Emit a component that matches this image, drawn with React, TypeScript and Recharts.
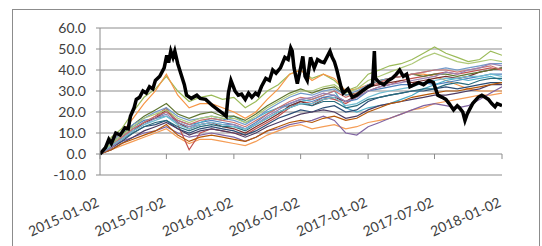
import { LineChart, Line, XAxis, YAxis, CartesianGrid, ReferenceLine } from "recharts";

const monthDates = [
  "2015-01-02", "2015-02-02", "2015-03-02", "2015-04-02", "2015-05-02", "2015-06-02",
  "2015-07-02", "2015-08-02", "2015-09-02", "2015-10-02", "2015-11-02", "2015-12-02",
  "2016-01-02", "2016-02-02", "2016-03-02", "2016-04-02", "2016-05-02", "2016-06-02",
  "2016-07-02", "2016-08-02", "2016-09-02", "2016-10-02", "2016-11-02", "2016-12-02",
  "2017-01-02", "2017-02-02", "2017-03-02", "2017-04-02", "2017-05-02", "2017-06-02",
  "2017-07-02", "2017-08-02", "2017-09-02", "2017-10-02", "2017-11-02", "2017-12-02",
  "2018-01-02"
];

const tickDates = ["2015-01-02", "2015-07-02", "2016-01-02", "2016-07-02", "2017-01-02", "2017-07-02", "2018-01-02"];
const yTicks = [-10, 0, 10, 20, 30, 40, 50, 60];

// thick black series, read at irregular dates
const blackDates = [
  "2015-01-02", "2015-01-17", "2015-01-26", "2015-02-02", "2015-02-14", "2015-02-26", "2015-03-11",
  "2015-03-20", "2015-03-26", "2015-04-05", "2015-04-11", "2015-04-20", "2015-04-29", "2015-05-08",
  "2015-05-17", "2015-05-26", "2015-06-02", "2015-06-14", "2015-06-26", "2015-07-03", "2015-07-08",
  "2015-07-14", "2015-07-20", "2015-07-25", "2015-08-02", "2015-08-11", "2015-08-20", "2015-08-26",
  "2015-09-08", "2015-09-23", "2015-10-02", "2015-10-17", "2015-11-05", "2015-11-20", "2015-12-02",
  "2015-12-12", "2015-12-18", "2015-12-25", "2016-01-05", "2016-01-14", "2016-01-23", "2016-02-02",
  "2016-02-11", "2016-02-20", "2016-03-01", "2016-03-08", "2016-03-17", "2016-03-29", "2016-04-08",
  "2016-04-17", "2016-04-26", "2016-05-08", "2016-05-20", "2016-05-29", "2016-06-05", "2016-06-09",
  "2016-06-14", "2016-06-23", "2016-07-02", "2016-07-08", "2016-07-14", "2016-07-20", "2016-07-29",
  "2016-08-08", "2016-08-17", "2016-08-26", "2016-09-04", "2016-09-20", "2016-09-26", "2016-10-02",
  "2016-10-08", "2016-10-20", "2016-10-26", "2016-11-08", "2016-11-20", "2016-12-02", "2016-12-17",
  "2017-01-02", "2017-01-14", "2017-01-19", "2017-01-22", "2017-02-02", "2017-02-14", "2017-02-26",
  "2017-03-08", "2017-03-20", "2017-03-29", "2017-04-08", "2017-04-17", "2017-04-26", "2017-05-08",
  "2017-05-20", "2017-06-02", "2017-06-17", "2017-06-29", "2017-07-11", "2017-07-23", "2017-08-02",
  "2017-08-11", "2017-08-23", "2017-09-02", "2017-09-08", "2017-09-17", "2017-09-23", "2017-09-29",
  "2017-10-05", "2017-10-14", "2017-10-29", "2017-11-08", "2017-11-17", "2017-11-26", "2017-12-05",
  "2017-12-14", "2017-12-20", "2018-01-02"
];
const blackValues = [
  0, 3, 7, 5, 10, 9, 12.5,
  12, 18, 22, 26, 27, 30, 29,
  32, 31, 35, 37, 41, 47, 43.5,
  49, 46, 49, 43, 38, 33, 28,
  26.5, 28, 26.5, 26, 23, 21, 19.5,
  18, 29, 35, 30, 28, 28.5, 26,
  29, 27, 29, 28, 32, 36, 35,
  40, 38.5, 41, 46, 45, 50.5, 49,
  41, 33.5, 41, 46.5, 37, 35, 46,
  41, 45, 44, 43.5, 49, 46, 44,
  40.5, 32, 29, 31, 27, 28, 30,
  32, 33, 49, 36, 34, 33, 35,
  36, 38, 40, 37, 38, 32, 33,
  34, 33, 35, 34, 28, 27, 26,
  24, 21, 23, 22, 20, 16, 19,
  21, 24, 27, 28, 27, 26, 24,
  22.5, 24, 23
];

// thin series, monthly readings
const s01 = [0, 8, 12, 20, 27, 31, 37, 30, 25, 27, 28, 26, 27, 22, 25, 30, 33, 38, 40, 36, 38, 35, 30, 32, 38, 40, 42, 43, 45, 48, 51, 48, 46, 44, 45, 49, 47];
const s02 = [0, 6, 10, 17, 24, 30, 38, 28, 22, 24, 24, 22, 20, 17, 20, 26, 31, 38, 40, 35, 38, 36, 30, 31, 33, 35, 36, 37, 38, 38, 37, 35, 33, 31, 30, 30, 30];
const s03 = [0, 2, 4, 6, 8, 10, 12, 8, 5, 7, 7, 6, 5, 4, 6, 9, 11, 13, 14, 12, 13, 14, 12, 13, 15, 16, 17, 19, 21, 22, 24, 25, 26, 27, 28, 28, 29];
const s04 = [0, 3, 6, 8, 10, 11, 13, 10, 8, 9, 10, 9, 8, 6, 8, 11, 12, 14, 15, 16, 18, 16, 10, 9, 13, 15, 17, 19, 21, 23, 24, 23, 22, 23, 26, 29, 32];
const s05 = [0, 4, 8, 12, 15, 18, 22, 14, 2, 10, 12, 11, 10, 9, 12, 15, 18, 22, 25, 24, 27, 26, 24, 27, 30, 32, 33, 35, 36, 37, 38, 39, 38, 39, 40, 41, 40];
const s06 = [0, 5, 9, 13, 16, 17, 20, 16, 14, 15, 16, 15, 14, 12, 15, 19, 22, 24, 26, 25, 27, 28, 25, 26, 30, 31, 32, 33, 33, 34, 33, 34, 35, 36, 37, 38, 38];
const s07 = [0, 4, 8, 12, 15, 17, 18, 15, 13, 15, 17, 16, 18, 15, 17, 20, 22, 23, 25, 26, 28, 30, 22, 20, 22, 23, 24, 26, 28, 31, 33, 35, 36, 35, 36, 37, 35];
const s08 = [0, 3, 6, 10, 13, 14, 16, 12, 10, 12, 13, 12, 11, 9, 11, 14, 17, 19, 21, 20, 22, 23, 20, 21, 25, 27, 28, 29, 30, 30, 31, 32, 31, 32, 33, 34, 34];
const s09 = [0, 3, 7, 11, 15, 17, 21, 15, 12, 14, 15, 13, 12, 10, 13, 16, 19, 23, 25, 23, 26, 27, 25, 28, 32, 33, 34, 35, 34, 35, 36, 37, 36, 37, 39, 40, 41];
const s10 = [0, 5, 9, 14, 18, 21, 24, 19, 17, 19, 20, 18, 18, 16, 19, 23, 26, 29, 31, 29, 31, 32, 28, 29, 33, 35, 36, 37, 38, 37, 38, 38, 37, 38, 39, 40, 41];
const s11 = [0, 2, 5, 8, 11, 13, 15, 12, 9, 11, 12, 11, 10, 8, 10, 13, 15, 17, 19, 20, 21, 20, 17, 18, 21, 23, 24, 25, 26, 27, 28, 28, 29, 30, 31, 33, 33];
const s12 = [0, 4, 7, 10, 13, 15, 16, 13, 11, 13, 14, 13, 13, 11, 14, 17, 20, 22, 24, 23, 25, 25, 22, 23, 26, 27, 28, 29, 30, 31, 31, 33, 34, 33, 35, 36, 36];
const s13 = [0, 2, 5, 7, 9, 11, 14, 9, 6, 8, 9, 8, 7, 6, 8, 11, 13, 15, 16, 15, 17, 18, 16, 17, 20, 22, 24, 25, 27, 28, 29, 30, 30, 31, 32, 33, 34];
const s14 = [0, 6, 10, 14, 17, 20, 22, 18, 16, 17, 18, 17, 16, 14, 17, 21, 24, 27, 29, 28, 30, 31, 28, 30, 33, 35, 36, 37, 38, 39, 40, 41, 40, 41, 42, 43, 43];
const s15 = [0, 4, 8, 12, 15, 18, 20, 16, 14, 16, 17, 16, 15, 13, 16, 19, 22, 25, 27, 26, 28, 30, 27, 29, 32, 34, 36, 37, 38, 39, 40, 40, 39, 40, 41, 42, 40];
const s16 = [0, 5, 9, 13, 17, 19, 21, 17, 15, 17, 18, 17, 17, 15, 18, 22, 25, 28, 30, 30, 32, 33, 29, 31, 35, 37, 39, 41, 43, 46, 48, 46, 44, 43, 44, 45, 44];
const s17 = [0, 3, 7, 11, 14, 17, 19, 15, 13, 14, 15, 14, 14, 12, 14, 18, 21, 24, 26, 27, 29, 28, 25, 27, 30, 32, 33, 34, 35, 36, 37, 39, 38, 40, 41, 43, 42];
const s18 = [0, 4, 7, 11, 14, 16, 18, 14, 12, 14, 15, 14, 13, 12, 14, 17, 20, 22, 24, 24, 26, 27, 23, 24, 27, 29, 30, 31, 32, 34, 35, 36, 36, 37, 37, 38, 37];

const thinSeries = [s01, s02, s03, s04, s05, s06, s07, s08, s09, s10, s11, s12, s13, s14, s15, s16, s17, s18];
const thinColors = [
  "#9BBB59", "#F79646", "#F59D56", "#8064A2", "#C0504D", "#4F81BD",
  "#4BACC6", "#2C4D75", "#772C2A", "#5F7530", "#4D3B62", "#276A7C",
  "#B65708", "#729ACA", "#CD7371", "#AFC97A", "#9983B5", "#6FBDD1"
];

const toTime = (d: string) => Date.parse(d + "T00:00:00Z");
const fmtDate = (t: number) => new Date(t).toISOString().slice(0, 10);

const blackData = blackDates.map((d, i) => ({ t: toTime(d), v: blackValues[i] }));
const thinData = thinSeries.map((vals) => monthDates.map((d, i) => ({ t: toTime(d), v: vals[i] })));

const axisGray = "#8c8c8c";
const textColor = "#404040";
const font = "Lato, sans-serif";

function DateTick({ x, y, payload }: any) {
  return (
    <text
      x={0}
      y={0}
      transform={`translate(${x},${y + 31}) rotate(-24)`}
      textAnchor="end"
      fill={textColor}
      fontSize={14}
      fontFamily={font}
    >
      {fmtDate(payload.value)}
    </text>
  );
}

export default function App() {
  return (
    <div style={{ position: "absolute", left: 0, top: 0, width: 542, height: 246, background: "#fff", overflow: "hidden" }}>
      <div
        style={{
          position: "absolute",
          left: 12,
          top: 9,
          width: 526,
          height: 250,
          borderLeft: `1px solid ${axisGray}`,
          borderTop: `1px solid ${axisGray}`,
          borderRight: `1px solid ${axisGray}`
        }}
      />
      <div style={{ position: "absolute", left: 0, top: 0 }}>
        <LineChart width={542} height={246} margin={{ top: 28, right: 40, left: 0, bottom: 0 }}>
          <CartesianGrid horizontal vertical={false} stroke={axisGray} strokeDasharray="" />
          <XAxis
            type="number"
            dataKey="t"
            domain={[toTime(tickDates[0]), toTime(tickDates[tickDates.length - 1])]}
            ticks={tickDates.map(toTime)}
            interval={0}
            tick={<DateTick />}
            axisLine={false}
            tickLine={false}
            tickSize={0}
            tickMargin={0}
            height={71}
            allowDataOverflow
          />
          <YAxis
            type="number"
            domain={[-10, 60]}
            ticks={yTicks}
            interval={0}
            width={100}
            axisLine={{ stroke: axisGray }}
            tickLine={{ stroke: axisGray }}
            tickSize={4}
            tickMargin={10}
            tick={{ fill: textColor, fontSize: 14, fontFamily: font }}
            tickFormatter={(v: number) => v.toFixed(1)}
          />
          {tickDates.map((d) => (
            <ReferenceLine
              key={d}
              segment={[{ x: toTime(d), y: 0 }, { x: toTime(d), y: -2.4 }]}
              stroke={axisGray}
              ifOverflow="visible"
            />
          ))}
          {thinData.map((data, i) => (
            <Line
              key={i}
              data={data}
              dataKey="v"
              type="linear"
              stroke={thinColors[i]}
              strokeWidth={1.2}
              dot={false}
              isAnimationActive={false}
            />
          ))}
          <Line
            data={blackData}
            dataKey="v"
            type="linear"
            stroke="#000"
            strokeWidth={3.5}
            dot={false}
            isAnimationActive={false}
          />
        </LineChart>
      </div>
    </div>
  );
}
